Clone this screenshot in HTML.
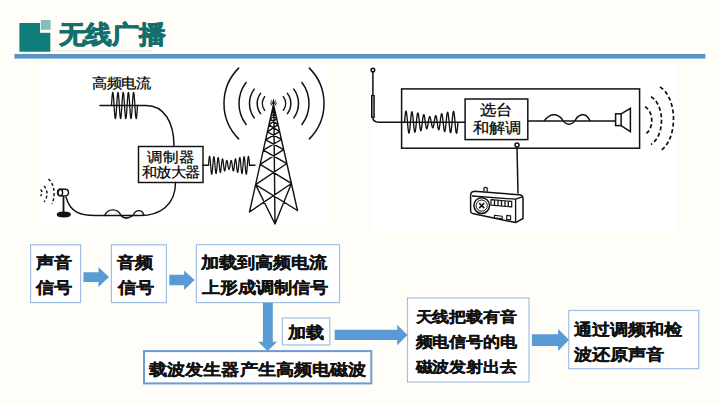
<!DOCTYPE html>
<html><head><meta charset="utf-8"><style>
html,body{margin:0;padding:0;width:720px;height:405px;overflow:hidden;background:#fefdf8;font-family:"Liberation Sans",sans-serif}
</style></head><body>
<svg width="720" height="405" viewBox="0 0 720 405" style="position:absolute;left:0;top:0">
<rect x="0" y="0" width="720" height="405" fill="#fefdf8"/>
<rect x="40" y="64" width="288" height="160" fill="#ffffff"/>
<rect x="371.5" y="64" width="305.5" height="167.5" fill="#ffffff"/>
<!-- header icon -->
<rect x="19.4" y="23" width="30.9" height="28.7" fill="#0f7e7a"/>
<rect x="40" y="20" width="12" height="12.8" fill="#fefdf8"/>
<rect x="40.8" y="20" width="9.8" height="9.8" fill="#83bfba"/>
<rect x="51" y="50.6" width="101" height="0.8" fill="#e4ded6"/>
<rect x="14.4" y="54" width="691" height="4.6" fill="#5b93c9"/>
<text transform="translate(58.50,43.30) scale(1,0.93)" x="0" y="0" font-family="Liberation Sans, sans-serif" font-weight="bold" font-size="27" fill="#136f6b" stroke="#136f6b" stroke-width="1.0" stroke-linejoin="round">无线广播</text>

<g fill="none" stroke="#111" stroke-width="1.45" stroke-linecap="round">
<path d="M111.50,105.50 L111.56,104.48 L111.63,103.47 L111.69,102.47 L111.76,101.48 L111.83,100.53 L111.89,99.60 L111.95,98.71 L112.02,97.86 L112.08,97.06 L112.15,96.31 L112.22,95.61 L112.28,94.98 L112.34,94.42 L112.41,93.92 L112.47,93.49 L112.54,93.14 L112.61,92.86 L112.67,92.66 L112.73,92.54 L112.80,92.50 L112.86,92.54 L112.93,92.66 L113.00,92.86 L113.06,93.14 L113.12,93.49 L113.19,93.92 L113.25,94.42 L113.32,94.98 L113.39,95.61 L113.45,96.31 L113.52,97.06 L113.58,97.86 L113.64,98.71 L113.71,99.60 L113.78,100.53 L113.84,101.48 L113.91,102.47 L113.97,103.47 L114.03,104.48 L114.10,105.50 L114.17,106.52 L114.23,107.53 L114.30,108.53 L114.36,109.52 L114.42,110.47 L114.49,111.40 L114.56,112.29 L114.62,113.14 L114.69,113.94 L114.75,114.69 L114.81,115.39 L114.88,116.02 L114.94,116.58 L115.01,117.08 L115.08,117.51 L115.14,117.86 L115.20,118.14 L115.27,118.34 L115.33,118.46 L115.40,118.50 L115.47,118.46 L115.53,118.34 L115.59,118.14 L115.66,117.86 L115.72,117.51 L115.79,117.08 L115.86,116.58 L115.92,116.02 L115.98,115.39 L116.05,114.69 L116.11,113.94 L116.18,113.14 L116.25,112.29 L116.31,111.40 L116.38,110.47 L116.44,109.52 L116.50,108.53 L116.57,107.53 L116.64,106.52 L116.70,105.50 L116.77,104.48 L116.83,103.47 L116.89,102.47 L116.96,101.48 L117.03,100.53 L117.09,99.60 L117.16,98.71 L117.22,97.86 L117.28,97.06 L117.35,96.31 L117.42,95.61 L117.48,94.98 L117.55,94.42 L117.61,93.92 L117.67,93.49 L117.74,93.14 L117.81,92.86 L117.87,92.66 L117.94,92.54 L118.00,92.50 L118.06,92.54 L118.13,92.66 L118.19,92.86 L118.26,93.14 L118.33,93.49 L118.39,93.92 L118.45,94.42 L118.52,94.98 L118.59,95.61 L118.65,96.31 L118.72,97.06 L118.78,97.86 L118.84,98.71 L118.91,99.60 L118.97,100.53 L119.04,101.48 L119.11,102.47 L119.17,103.47 L119.23,104.48 L119.30,105.50 L119.36,106.52 L119.43,107.53 L119.50,108.53 L119.56,109.52 L119.62,110.47 L119.69,111.40 L119.75,112.29 L119.82,113.14 L119.89,113.94 L119.95,114.69 L120.02,115.39 L120.08,116.02 L120.14,116.58 L120.21,117.08 L120.28,117.51 L120.34,117.86 L120.41,118.14 L120.47,118.34 L120.53,118.46 L120.60,118.50 L120.66,118.46 L120.73,118.34 L120.80,118.14 L120.86,117.86 L120.92,117.51 L120.99,117.08 L121.06,116.58 L121.12,116.02 L121.19,115.39 L121.25,114.69 L121.31,113.94 L121.38,113.14 L121.44,112.29 L121.51,111.40 L121.58,110.47 L121.64,109.52 L121.70,108.53 L121.77,107.53 L121.84,106.52 L121.90,105.50 L121.97,104.48 L122.03,103.47 L122.09,102.47 L122.16,101.48 L122.22,100.53 L122.29,99.60 L122.36,98.71 L122.42,97.86 L122.48,97.06 L122.55,96.31 L122.61,95.61 L122.68,94.98 L122.75,94.42 L122.81,93.92 L122.88,93.49 L122.94,93.14 L123.00,92.86 L123.07,92.66 L123.14,92.54 L123.20,92.50 L123.27,92.54 L123.33,92.66 L123.39,92.86 L123.46,93.14 L123.53,93.49 L123.59,93.92 L123.66,94.42 L123.72,94.98 L123.78,95.61 L123.85,96.31 L123.91,97.06 L123.98,97.86 L124.05,98.71 L124.11,99.60 L124.17,100.53 L124.24,101.48 L124.31,102.47 L124.37,103.47 L124.44,104.48 L124.50,105.50 L124.56,106.52 L124.63,107.53 L124.69,108.53 L124.76,109.52 L124.83,110.47 L124.89,111.40 L124.95,112.29 L125.02,113.14 L125.08,113.94 L125.15,114.69 L125.22,115.39 L125.28,116.02 L125.34,116.58 L125.41,117.08 L125.47,117.51 L125.54,117.86 L125.61,118.14 L125.67,118.34 L125.73,118.46 L125.80,118.50 L125.86,118.46 L125.93,118.34 L126.00,118.14 L126.06,117.86 L126.12,117.51 L126.19,117.08 L126.25,116.58 L126.32,116.02 L126.39,115.39 L126.45,114.69 L126.52,113.94 L126.58,113.14 L126.64,112.29 L126.71,111.40 L126.78,110.47 L126.84,109.52 L126.91,108.53 L126.97,107.53 L127.03,106.52 L127.10,105.50 L127.17,104.48 L127.23,103.47 L127.30,102.47 L127.36,101.48 L127.42,100.53 L127.49,99.60 L127.56,98.71 L127.62,97.86 L127.69,97.06 L127.75,96.31 L127.81,95.61 L127.88,94.98 L127.94,94.42 L128.01,93.92 L128.07,93.49 L128.14,93.14 L128.20,92.86 L128.27,92.66 L128.34,92.54 L128.40,92.50 L128.47,92.54 L128.53,92.66 L128.59,92.86 L128.66,93.14 L128.72,93.49 L128.79,93.92 L128.85,94.42 L128.92,94.98 L128.99,95.61 L129.05,96.31 L129.12,97.06 L129.18,97.86 L129.25,98.71 L129.31,99.60 L129.38,100.53 L129.44,101.48 L129.50,102.47 L129.57,103.47 L129.63,104.48 L129.70,105.50 L129.76,106.52 L129.83,107.53 L129.90,108.53 L129.96,109.52 L130.03,110.47 L130.09,111.40 L130.16,112.29 L130.22,113.14 L130.28,113.94 L130.35,114.69 L130.41,115.39 L130.48,116.02 L130.55,116.58 L130.61,117.08 L130.68,117.51 L130.74,117.86 L130.81,118.14 L130.87,118.34 L130.94,118.46 L131.00,118.50 L131.06,118.46 L131.13,118.34 L131.19,118.14 L131.26,117.86 L131.32,117.51 L131.39,117.08 L131.45,116.58 L131.52,116.02 L131.59,115.39 L131.65,114.69 L131.72,113.94 L131.78,113.14 L131.84,112.29 L131.91,111.40 L131.97,110.47 L132.04,109.52 L132.10,108.53 L132.17,107.53 L132.24,106.52 L132.30,105.50 L132.37,104.48 L132.43,103.47 L132.50,102.47 L132.56,101.48 L132.62,100.53 L132.69,99.60 L132.75,98.71 L132.82,97.86 L132.88,97.06 L132.95,96.31 L133.01,95.61 L133.08,94.98 L133.15,94.42 L133.21,93.92 L133.28,93.49 L133.34,93.14 L133.41,92.86 L133.47,92.66 L133.53,92.54 L133.60,92.50 L133.66,92.54 L133.73,92.66 L133.80,92.86 L133.86,93.14 L133.93,93.49 L133.99,93.92 L134.06,94.42 L134.12,94.98 L134.19,95.61 L134.25,96.31 L134.31,97.06 L134.38,97.86 L134.44,98.71 L134.51,99.60 L134.57,100.53 L134.64,101.48 L134.70,102.47 L134.77,103.47 L134.84,104.48 L134.90,105.50 L134.97,106.52 L135.03,107.53 L135.09,108.53 L135.16,109.52 L135.22,110.47 L135.29,111.40 L135.35,112.29 L135.42,113.14 L135.49,113.94 L135.55,114.69 L135.62,115.39 L135.68,116.02 L135.75,116.58 L135.81,117.08 L135.88,117.51 L135.94,117.86 L136.00,118.14 L136.07,118.34 L136.13,118.46 L136.20,118.50 L136.26,118.46 L136.33,118.34 L136.40,118.14 L136.46,117.86 L136.53,117.51 L136.59,117.08 L136.66,116.58 L136.72,116.02 L136.78,115.39 L136.85,114.69 L136.91,113.94 L136.98,113.14 L137.05,112.29 L137.11,111.40 L137.18,110.47 L137.24,109.52 L137.31,108.53 L137.37,107.53 L137.44,106.52 L137.50,105.50" stroke-width="1.3"/>
<path d="M100,105.5 L146,105.5 C164,105.5 174,122 174,146"/>
<rect x="138.5" y="146.5" width="64.5" height="36" />
<path d="M203,165.3 L208.5,165.3 M249.5,165.3 L255,165.3"/>
<path d="M208.50,165.30 L208.60,163.96 L208.71,162.65 L208.81,161.40 L208.91,160.24 L209.01,159.19 L209.12,158.28 L209.22,157.52 L209.32,156.94 L209.42,156.54 L209.53,156.34 L209.63,156.34 L209.73,156.54 L209.83,156.93 L209.94,157.51 L210.04,158.26 L210.14,159.17 L210.24,160.21 L210.34,161.36 L210.45,162.60 L210.55,163.90 L210.65,165.23 L210.75,166.56 L210.86,167.86 L210.96,169.09 L211.06,170.25 L211.16,171.29 L211.27,172.19 L211.37,172.94 L211.47,173.52 L211.57,173.92 L211.68,174.12 L211.78,174.13 L211.88,173.94 L211.99,173.55 L212.09,172.99 L212.19,172.25 L212.29,171.37 L212.40,170.35 L212.50,169.22 L212.60,168.01 L212.70,166.74 L212.81,165.44 L212.91,164.14 L213.01,162.87 L213.11,161.66 L213.22,160.54 L213.32,159.52 L213.42,158.64 L213.52,157.90 L213.62,157.34 L213.73,156.95 L213.83,156.75 L213.93,156.74 L214.03,156.92 L214.14,157.29 L214.24,157.83 L214.34,158.54 L214.44,159.39 L214.55,160.37 L214.65,161.46 L214.75,162.63 L214.85,163.85 L214.96,165.10 L215.06,166.35 L215.16,167.57 L215.26,168.73 L215.37,169.82 L215.47,170.79 L215.57,171.64 L215.68,172.35 L215.78,172.89 L215.88,173.26 L215.98,173.46 L216.09,173.47 L216.19,173.30 L216.29,172.95 L216.39,172.44 L216.50,171.77 L216.60,170.96 L216.70,170.03 L216.80,169.00 L216.91,167.89 L217.01,166.73 L217.11,165.55 L217.21,164.37 L217.31,163.21 L217.42,162.11 L217.52,161.09 L217.62,160.17 L217.72,159.37 L217.83,158.70 L217.93,158.19 L218.03,157.83 L218.13,157.65 L218.24,157.63 L218.34,157.79 L218.44,158.11 L218.54,158.59 L218.65,159.22 L218.75,159.97 L218.85,160.84 L218.96,161.80 L219.06,162.83 L219.16,163.91 L219.26,165.01 L219.37,166.11 L219.47,167.18 L219.57,168.20 L219.67,169.15 L219.78,170.01 L219.88,170.75 L219.98,171.37 L220.08,171.85 L220.19,172.17 L220.29,172.35 L220.39,172.36 L220.49,172.22 L220.59,171.92 L220.70,171.49 L220.80,170.91 L220.90,170.22 L221.00,169.43 L221.11,168.55 L221.21,167.61 L221.31,166.62 L221.41,165.62 L221.52,164.62 L221.62,163.64 L221.72,162.71 L221.82,161.84 L221.93,161.07 L222.03,160.39 L222.13,159.83 L222.24,159.40 L222.34,159.10 L222.44,158.94 L222.54,158.93 L222.65,159.05 L222.75,159.32 L222.85,159.71 L222.95,160.23 L223.06,160.85 L223.16,161.56 L223.26,162.35 L223.36,163.19 L223.47,164.07 L223.57,164.97 L223.67,165.86 L223.77,166.73 L223.88,167.56 L223.98,168.33 L224.08,169.02 L224.18,169.62 L224.28,170.12 L224.39,170.50 L224.49,170.77 L224.59,170.91 L224.69,170.92 L224.80,170.81 L224.90,170.57 L225.00,170.23 L225.10,169.78 L225.21,169.23 L225.31,168.61 L225.41,167.92 L225.51,167.18 L225.62,166.41 L225.72,165.63 L225.82,164.85 L225.93,164.09 L226.03,163.37 L226.13,162.71 L226.23,162.11 L226.34,161.59 L226.44,161.16 L226.54,160.83 L226.64,160.61 L226.75,160.49 L226.85,160.48 L226.95,160.58 L227.05,160.78 L227.16,161.08 L227.26,161.46 L227.36,161.93 L227.46,162.46 L227.56,163.05 L227.67,163.67 L227.77,164.32 L227.87,164.99 L227.97,165.64 L228.08,166.28 L228.18,166.89 L228.28,167.45 L228.38,167.95 L228.49,168.38 L228.59,168.74 L228.69,169.01 L228.79,169.20 L228.90,169.29 L229.00,169.30 L229.10,169.29 L229.21,169.20 L229.31,169.01 L229.41,168.74 L229.51,168.38 L229.62,167.95 L229.72,167.45 L229.82,166.89 L229.92,166.28 L230.03,165.64 L230.13,164.99 L230.23,164.32 L230.33,163.67 L230.44,163.05 L230.54,162.46 L230.64,161.93 L230.74,161.46 L230.84,161.08 L230.95,160.78 L231.05,160.58 L231.15,160.48 L231.25,160.49 L231.36,160.61 L231.46,160.83 L231.56,161.16 L231.66,161.59 L231.77,162.11 L231.87,162.71 L231.97,163.37 L232.07,164.09 L232.18,164.85 L232.28,165.63 L232.38,166.41 L232.49,167.18 L232.59,167.92 L232.69,168.61 L232.79,169.23 L232.90,169.78 L233.00,170.23 L233.10,170.57 L233.20,170.81 L233.31,170.92 L233.41,170.91 L233.51,170.77 L233.61,170.50 L233.72,170.12 L233.82,169.62 L233.92,169.02 L234.02,168.33 L234.12,167.56 L234.23,166.73 L234.33,165.86 L234.43,164.97 L234.53,164.07 L234.64,163.19 L234.74,162.35 L234.84,161.56 L234.94,160.85 L235.05,160.23 L235.15,159.71 L235.25,159.32 L235.35,159.05 L235.46,158.93 L235.56,158.94 L235.66,159.10 L235.76,159.40 L235.87,159.83 L235.97,160.39 L236.07,161.07 L236.18,161.84 L236.28,162.71 L236.38,163.64 L236.48,164.62 L236.59,165.62 L236.69,166.62 L236.79,167.61 L236.89,168.55 L237.00,169.43 L237.10,170.22 L237.20,170.91 L237.30,171.49 L237.41,171.92 L237.51,172.22 L237.61,172.36 L237.71,172.35 L237.81,172.17 L237.92,171.85 L238.02,171.37 L238.12,170.75 L238.22,170.01 L238.33,169.15 L238.43,168.20 L238.53,167.18 L238.63,166.11 L238.74,165.01 L238.84,163.91 L238.94,162.83 L239.04,161.80 L239.15,160.84 L239.25,159.97 L239.35,159.22 L239.46,158.59 L239.56,158.11 L239.66,157.79 L239.76,157.63 L239.87,157.65 L239.97,157.83 L240.07,158.19 L240.17,158.70 L240.28,159.37 L240.38,160.17 L240.48,161.09 L240.58,162.11 L240.69,163.21 L240.79,164.37 L240.89,165.55 L240.99,166.73 L241.09,167.89 L241.20,169.00 L241.30,170.03 L241.40,170.96 L241.50,171.77 L241.61,172.44 L241.71,172.95 L241.81,173.30 L241.91,173.47 L242.02,173.46 L242.12,173.26 L242.22,172.89 L242.32,172.35 L242.43,171.64 L242.53,170.79 L242.63,169.82 L242.74,168.73 L242.84,167.57 L242.94,166.35 L243.04,165.10 L243.14,163.85 L243.25,162.63 L243.35,161.46 L243.45,160.37 L243.56,159.39 L243.66,158.54 L243.76,157.83 L243.86,157.29 L243.97,156.92 L244.07,156.74 L244.17,156.75 L244.27,156.95 L244.38,157.34 L244.48,157.90 L244.58,158.64 L244.68,159.52 L244.78,160.54 L244.89,161.66 L244.99,162.87 L245.09,164.14 L245.19,165.44 L245.30,166.74 L245.40,168.01 L245.50,169.22 L245.61,170.35 L245.71,171.37 L245.81,172.25 L245.91,172.99 L246.01,173.55 L246.12,173.94 L246.22,174.13 L246.32,174.12 L246.43,173.92 L246.53,173.52 L246.63,172.94 L246.73,172.19 L246.84,171.29 L246.94,170.25 L247.04,169.09 L247.14,167.86 L247.25,166.56 L247.35,165.23 L247.45,163.90 L247.55,162.60 L247.66,161.36 L247.76,160.21 L247.86,159.17 L247.96,158.26 L248.06,157.51 L248.17,156.93 L248.27,156.54 L248.37,156.34 L248.47,156.34 L248.58,156.54 L248.68,156.94 L248.78,157.52 L248.88,158.28 L248.99,159.19 L249.09,160.24 L249.19,161.40 L249.30,162.65 L249.40,163.96 L249.50,165.30" stroke-width="1.25"/>
<path d="M175.5,182.5 C175.5,205 160,215.5 140,215.5 L95,215.5 C80,215.5 70,212 66,197"/>
<path d="M104.5,215.5 C108,208 118,208 121,215.5 C124,219 128,219 133,215.5 C136,209 142,209 144,215.5"/>
<path d="M238.64,138.86 A50,50 0 0 1 238.64,68.14 M309.36,68.14 A50,50 0 0 1 309.36,138.86 M246.05,124.56 A35,35 0 0 1 246.05,82.44 M301.95,82.44 A35,35 0 0 1 301.95,124.56 M254.18,117.90 A24.5,24.5 0 0 1 254.18,89.10 M293.82,89.10 A24.5,24.5 0 0 1 293.82,117.90 M260.58,113.61 A16.8,16.8 0 0 1 260.58,93.39 M287.42,93.39 A16.8,16.8 0 0 1 287.42,113.61 M264.62,110.32 A11.6,11.6 0 0 1 264.62,96.68 M283.38,96.68 A11.6,11.6 0 0 1 283.38,110.32" stroke-width="1.5"/>
<path d="M273.50,104.50 L249.50,212.00 M273.50,104.50 L297.50,210.50 M249.50,212.00 L291.38,183.47 M297.50,210.50 L255.62,184.59 M255.62,184.59 L286.87,163.54 M291.38,183.47 L260.13,164.38 M260.13,164.38 L283.70,149.55 M286.87,163.54 L263.30,150.19 M263.30,150.19 L281.42,139.48 M283.70,149.55 L265.58,139.97 M265.58,139.97 L279.62,131.53 M281.42,139.48 L267.38,131.91 M267.38,131.91 L278.06,124.64 M279.62,131.53 L268.94,124.92 M268.94,124.92 L276.74,118.81 M278.06,124.64 L270.26,119.01 M270.26,119.01 L275.66,114.04 M276.74,118.81 L271.34,114.17 M271.34,114.17 L274.70,109.80 M275.66,114.04 L272.30,109.88 M255.62,184.59 L275.00,224.00 M291.38,183.47 L275.00,224.00 M273.80,106.00 L275.00,224.00" stroke-width="1.4"/>
<path d="M271,100.5 L276,105 M276,100.5 L271,105 M273.5,99.5 L273.5,106 M270.5,103 L276.5,103" stroke-width="1"/>
</g>
<!-- mic -->
<g stroke="#111" fill="none" stroke-width="1.4">
<rect x="57.5" y="189.3" width="11" height="6.6" rx="3.3" fill="#fff"/>
<ellipse cx="60.3" cy="192.6" rx="2.3" ry="3.3"/>
<path d="M63.5,196 L63.5,212.5" stroke-width="1.8"/>
<ellipse cx="63.8" cy="214.4" rx="6.4" ry="2.3" fill="#111"/>
<path d="M48.5,179 C54,184 56,194 52,204 M44,186 C48,190 48,197 44,202 M40.5,189.5 C42.5,191 42.5,194 40.5,196" stroke-dasharray="3,2.2"/>
</g>


<!-- right diagram -->
<g fill="none" stroke="#111" stroke-width="1.5">
<rect x="401.6" y="88.9" width="238" height="59.3"/>
<rect x="465.1" y="99" width="62.7" height="40.6"/>
<circle cx="372.9" cy="70" r="1.8"/>
<path d="M372.9,71.8 L372.9,95.6"/>
<rect x="371.6" y="95.6" width="2.6" height="21.7" stroke-width="1.2" fill="#888"/>
<path d="M372.8,117.3 C372.8,121 375,122.2 379,122.2 L465.1,122.2"/>
<path d="M404.50,122.20 L404.63,120.65 L404.77,119.13 L404.90,117.67 L405.04,116.31 L405.17,115.06 L405.30,113.95 L405.44,113.01 L405.57,112.26 L405.70,111.70 L405.84,111.35 L405.97,111.22 L406.11,111.31 L406.24,111.62 L406.37,112.14 L406.51,112.86 L406.64,113.76 L406.77,114.83 L406.91,116.05 L407.04,117.39 L407.18,118.82 L407.31,120.32 L407.44,121.86 L407.58,123.40 L407.71,124.91 L407.84,126.37 L407.98,127.74 L408.11,128.99 L408.25,130.11 L408.38,131.07 L408.51,131.85 L408.65,132.44 L408.78,132.82 L408.91,132.99 L409.05,132.94 L409.18,132.68 L409.31,132.21 L409.45,131.54 L409.58,130.68 L409.72,129.66 L409.85,128.49 L409.98,127.20 L410.12,125.82 L410.25,124.36 L410.38,122.87 L410.52,121.37 L410.65,119.88 L410.79,118.45 L410.92,117.10 L411.05,115.86 L411.19,114.74 L411.32,113.78 L411.45,112.99 L411.59,112.39 L411.72,111.98 L411.86,111.78 L411.99,111.79 L412.12,112.01 L412.26,112.43 L412.39,113.04 L412.52,113.83 L412.66,114.79 L412.79,115.89 L412.93,117.11 L413.06,118.42 L413.19,119.81 L413.33,121.24 L413.46,122.68 L413.60,124.10 L413.73,125.48 L413.86,126.79 L414.00,128.00 L414.13,129.09 L414.26,130.04 L414.40,130.82 L414.53,131.43 L414.67,131.85 L414.80,132.08 L414.93,132.10 L415.07,131.93 L415.20,131.57 L415.33,131.02 L415.47,130.30 L415.60,129.43 L415.74,128.41 L415.87,127.27 L416.00,126.05 L416.14,124.75 L416.27,123.41 L416.40,122.05 L416.54,120.70 L416.67,119.40 L416.81,118.15 L416.94,117.00 L417.07,115.96 L417.21,115.05 L417.34,114.29 L417.47,113.69 L417.61,113.26 L417.74,113.02 L417.88,112.96 L418.01,113.08 L418.14,113.39 L418.28,113.87 L418.41,114.51 L418.54,115.30 L418.68,116.22 L418.81,117.26 L418.94,118.38 L419.08,119.57 L419.21,120.81 L419.35,122.06 L419.48,123.31 L419.61,124.52 L419.75,125.68 L419.88,126.75 L420.01,127.73 L420.15,128.59 L420.28,129.31 L420.42,129.89 L420.55,130.31 L420.68,130.56 L420.82,130.65 L420.95,130.56 L421.08,130.31 L421.22,129.90 L421.35,129.34 L421.49,128.64 L421.62,127.82 L421.75,126.90 L421.89,125.89 L422.02,124.82 L422.15,123.71 L422.29,122.58 L422.42,121.45 L422.56,120.35 L422.69,119.30 L422.82,118.31 L422.96,117.41 L423.09,116.62 L423.23,115.95 L423.36,115.41 L423.49,115.01 L423.63,114.76 L423.76,114.66 L423.89,114.71 L424.03,114.91 L424.16,115.25 L424.30,115.73 L424.43,116.33 L424.56,117.04 L424.70,117.85 L424.83,118.73 L424.96,119.67 L425.10,120.65 L425.23,121.64 L425.37,122.64 L425.50,123.62 L425.63,124.55 L425.77,125.43 L425.90,126.23 L426.03,126.94 L426.17,127.54 L426.30,128.04 L426.44,128.41 L426.57,128.65 L426.70,128.75 L426.84,128.73 L426.97,128.58 L427.10,128.30 L427.24,127.90 L427.37,127.40 L427.50,126.80 L427.64,126.12 L427.77,125.36 L427.91,124.56 L428.04,123.72 L428.17,122.87 L428.31,122.01 L428.44,121.17 L428.57,120.36 L428.71,119.61 L428.84,118.91 L428.98,118.30 L429.11,117.77 L429.24,117.34 L429.38,117.01 L429.51,116.79 L429.64,116.68 L429.78,116.68 L429.91,116.80 L430.05,117.02 L430.18,117.33 L430.31,117.75 L430.45,118.24 L430.58,118.80 L430.71,119.42 L430.85,120.08 L430.98,120.78 L431.12,121.49 L431.25,122.20 L431.38,122.91 L431.52,123.62 L431.65,124.32 L431.79,124.98 L431.92,125.60 L432.05,126.16 L432.19,126.65 L432.32,127.07 L432.45,127.38 L432.59,127.60 L432.72,127.72 L432.86,127.72 L432.99,127.61 L433.12,127.39 L433.26,127.06 L433.39,126.63 L433.52,126.10 L433.66,125.49 L433.79,124.79 L433.93,124.04 L434.06,123.23 L434.19,122.39 L434.33,121.53 L434.46,120.68 L434.59,119.84 L434.73,119.04 L434.86,118.28 L435.00,117.60 L435.13,117.00 L435.26,116.50 L435.40,116.10 L435.53,115.82 L435.66,115.67 L435.80,115.65 L435.93,115.75 L436.06,115.99 L436.20,116.36 L436.33,116.86 L436.47,117.46 L436.60,118.17 L436.73,118.97 L436.87,119.85 L437.00,120.78 L437.13,121.76 L437.27,122.76 L437.40,123.75 L437.54,124.73 L437.67,125.67 L437.80,126.55 L437.94,127.36 L438.07,128.07 L438.20,128.67 L438.34,129.15 L438.47,129.49 L438.61,129.69 L438.74,129.74 L438.87,129.64 L439.01,129.39 L439.14,128.99 L439.27,128.45 L439.41,127.78 L439.54,126.99 L439.68,126.09 L439.81,125.10 L439.94,124.05 L440.08,122.95 L440.21,121.82 L440.35,120.69 L440.48,119.58 L440.61,118.51 L440.75,117.50 L440.88,116.58 L441.01,115.76 L441.15,115.06 L441.28,114.50 L441.42,114.09 L441.55,113.84 L441.68,113.75 L441.82,113.84 L441.95,114.09 L442.08,114.51 L442.22,115.09 L442.35,115.81 L442.49,116.67 L442.62,117.65 L442.75,118.72 L442.89,119.88 L443.02,121.09 L443.15,122.34 L443.29,123.59 L443.42,124.83 L443.56,126.02 L443.69,127.14 L443.82,128.18 L443.96,129.10 L444.09,129.89 L444.22,130.53 L444.36,131.01 L444.49,131.32 L444.62,131.44 L444.76,131.38 L444.89,131.14 L445.03,130.71 L445.16,130.11 L445.29,129.35 L445.43,128.44 L445.56,127.40 L445.69,126.25 L445.83,125.00 L445.96,123.70 L446.10,122.35 L446.23,120.99 L446.36,119.65 L446.50,118.35 L446.63,117.13 L446.76,115.99 L446.90,114.97 L447.03,114.10 L447.17,113.38 L447.30,112.83 L447.43,112.47 L447.57,112.30 L447.70,112.32 L447.83,112.55 L447.97,112.97 L448.10,113.58 L448.24,114.36 L448.37,115.31 L448.50,116.40 L448.64,117.61 L448.77,118.92 L448.90,120.30 L449.04,121.72 L449.17,123.16 L449.31,124.59 L449.44,125.98 L449.57,127.29 L449.71,128.51 L449.84,129.61 L449.98,130.57 L450.11,131.36 L450.24,131.97 L450.38,132.39 L450.51,132.61 L450.64,132.62 L450.78,132.42 L450.91,132.01 L451.05,131.41 L451.18,130.62 L451.31,129.66 L451.45,128.54 L451.58,127.30 L451.71,125.95 L451.85,124.52 L451.98,123.03 L452.12,121.53 L452.25,120.04 L452.38,118.58 L452.52,117.20 L452.65,115.91 L452.78,114.74 L452.92,113.72 L453.05,112.86 L453.19,112.19 L453.32,111.72 L453.45,111.46 L453.59,111.41 L453.72,111.58 L453.85,111.96 L453.99,112.55 L454.12,113.33 L454.25,114.29 L454.39,115.41 L454.52,116.66 L454.66,118.03 L454.79,119.49 L454.92,121.00 L455.06,122.54 L455.19,124.08 L455.32,125.58 L455.46,127.01 L455.59,128.35 L455.73,129.57 L455.86,130.64 L455.99,131.54 L456.13,132.26 L456.26,132.78 L456.39,133.09 L456.53,133.18 L456.66,133.05 L456.80,132.70 L456.93,132.14 L457.06,131.39 L457.20,130.45 L457.33,129.34 L457.46,128.09 L457.60,126.73 L457.73,125.27 L457.87,123.75 L458.00,122.20" stroke-width="1.35"/>
<path d="M527.8,121.1 L615.6,121.1"/>
<path d="M544,121.1 C550,113 557,113 562,119 C566,126 572,126 576,119 C580,113 587,113 590,121.1"/>
<rect x="615.6" y="113.8" width="5.5" height="11.8"/>
<path d="M621.1,113.8 L630.4,108.4 L630.4,131.6 L621.1,125.6"/>
<path d="M645,106.7 C654,112 654,129 645,134.4 M651,96.7 C665,105 665,136 651,144.4 M660,87.1 C678,98 678,140 660,151.1" stroke-dasharray="4,2.6" stroke-width="1.7"/>
<circle cx="517" cy="145" r="2"/>
<path d="M517,147 L518,193.5"/>
</g>
<!-- radio -->
<g stroke="#111" stroke-width="1.3" fill="#fff" stroke-linejoin="round">
<path d="M484,191.5 L484,188 Q485.5,186.8 487.2,188 L487.2,191.8" stroke-width="1.2"/>
<path d="M470.6,195.5 Q470.8,191.5 474.5,191.3 L519.5,194.8 Q523,195.3 523,198.5 L523,218.5 L515.6,222.6 L472.6,213.6 Q470.6,213.1 470.6,211 Z" stroke-width="1.5"/>
<path d="M472,196 L515.6,199.2 L523,196.6 M515.6,199.2 L515.6,222.6" fill="none"/>
<circle cx="481.7" cy="205.6" r="7.8" stroke-width="1.5"/>
<circle cx="481.7" cy="205.6" r="5.6" stroke-width="1"/>
<path d="M479.2,203.1 L484.2,208.1 M484.2,203.1 L479.2,208.1" fill="none" stroke-width="1.5"/>
<path d="M491,199.7 L511.7,201.4 L511.7,206.9 L491,205.2 Z" stroke-width="1.2"/>
<path d="M494.5,200 L494.5,205.5 M498,200.3 L498,205.8 M501.5,200.6 L501.5,206.1 M505,200.9 L505,206.4 M508.3,201.1 L508.3,206.6" fill="none" stroke-width="1.3"/>
<path d="M494.4,215.2 L502.2,216.2 L502.2,218.8 L494.4,217.8 Z M506.7,215.4 L510.6,215.9 L510.6,219.9 L506.7,219.4 Z" stroke-width="1.1"/>
</g>


<!-- flow boxes -->
<g fill="#fff" stroke="#9fc0e4" stroke-width="1.2">
<rect x="30.6" y="244.8" width="50" height="57.8"/>
<rect x="111.4" y="244.8" width="55" height="57.8"/>
<rect x="196.4" y="244.6" width="143.1" height="58"/>
<rect x="282.4" y="318" width="47.4" height="26.9"/>
<rect x="407.5" y="298" width="121.5" height="84"/>
<rect x="568.7" y="310.5" width="130" height="58.2"/>
</g>
<rect x="144" y="351.1" width="227.3" height="32.3" fill="#fff" stroke="#6b9bd3" stroke-width="2"/>
<g fill="#5b9bd5">
<path d="M83.4,272.2 L98.5,272.2 L98.5,267.3 L109,277.1 L98.5,287 L98.5,282.1 L83.4,282.1 Z"/>
<path d="M169.3,274.7 L184.1,274.7 L184.1,270.4 L194.6,280.1 L184.1,290.1 L184.1,285.2 L169.3,285.2 Z"/>
<path d="M262.9,302.7 L272.8,302.7 L272.8,341.8 L277.1,341.8 L267.6,350.9 L258.1,341.8 L262.9,341.8 Z"/>
<path d="M334.7,329.7 L397.2,329.7 L397.2,324.7 L407.5,335 L397.2,345.2 L397.2,340 L334.7,340 Z"/>
<path d="M531.9,334.3 L558.1,334.3 L558.1,329.1 L569,339.8 L558.1,351.1 L558.1,345.9 L531.9,345.9 Z"/>
</g>

<text transform="translate(92.00,88.40) scale(1,0.92)" x="0" y="0" font-family="Liberation Sans, sans-serif" font-weight="normal" font-size="15" fill="#000" stroke="#000" stroke-width="0.25" stroke-linejoin="round">高频电流</text>
<text transform="translate(147.10,162.10) scale(1,0.9)" x="0" y="0" font-family="Liberation Sans, sans-serif" font-weight="normal" font-size="15.5" fill="#000" stroke="#000" stroke-width="0.25" stroke-linejoin="round">调制器</text>
<text transform="translate(141.70,177.40) scale(1,0.92)" x="0" y="0" font-family="Liberation Sans, sans-serif" font-weight="normal" font-size="15" fill="#000" stroke="#000" stroke-width="0.25" stroke-linejoin="round">和放大器</text>
<text transform="translate(479.90,115.10) scale(1,0.92)" x="0" y="0" font-family="Liberation Sans, sans-serif" font-weight="normal" font-size="16" fill="#000" stroke="#000" stroke-width="0.25" stroke-linejoin="round">选台</text>
<text transform="translate(473.40,133.10) scale(1,0.92)" x="0" y="0" font-family="Liberation Sans, sans-serif" font-weight="normal" font-size="16" fill="#000" stroke="#000" stroke-width="0.25" stroke-linejoin="round">和解调</text>
<text transform="translate(36.10,267.60) scale(1,0.88)" x="0" y="0" font-family="Liberation Sans, sans-serif" font-weight="bold" font-size="18" fill="#111" stroke="#111" stroke-width="0.3" stroke-linejoin="round">声音</text>
<text transform="translate(36.10,293.30) scale(1,0.88)" x="0" y="0" font-family="Liberation Sans, sans-serif" font-weight="bold" font-size="18" fill="#111" stroke="#111" stroke-width="0.3" stroke-linejoin="round">信号</text>
<text transform="translate(117.00,267.60) scale(1,0.88)" x="0" y="0" font-family="Liberation Sans, sans-serif" font-weight="bold" font-size="18" fill="#111" stroke="#111" stroke-width="0.3" stroke-linejoin="round">音频</text>
<text transform="translate(117.50,293.30) scale(1,0.88)" x="0" y="0" font-family="Liberation Sans, sans-serif" font-weight="bold" font-size="18" fill="#111" stroke="#111" stroke-width="0.3" stroke-linejoin="round">信号</text>
<text transform="translate(201.00,267.50) scale(1,0.88)" x="0" y="0" font-family="Liberation Sans, sans-serif" font-weight="bold" font-size="18" fill="#111" stroke="#111" stroke-width="0.3" stroke-linejoin="round">加载到高频电流</text>
<text transform="translate(202.00,293.24) scale(1,0.88)" x="0" y="0" font-family="Liberation Sans, sans-serif" font-weight="bold" font-size="18" fill="#111" stroke="#111" stroke-width="0.3" stroke-linejoin="round">上形成调制信号</text>
<text transform="translate(288.10,337.50) scale(1,0.88)" x="0" y="0" font-family="Liberation Sans, sans-serif" font-weight="bold" font-size="18" fill="#111" stroke="#111" stroke-width="0.3" stroke-linejoin="round">加载</text>
<text transform="translate(149.30,374.60) scale(1,0.88)" x="0" y="0" font-family="Liberation Sans, sans-serif" font-weight="bold" font-size="18" fill="#111" stroke="#111" stroke-width="0.3" stroke-linejoin="round">载波发生器产生高频电磁波</text>
<text transform="translate(415.50,321.76) scale(1,0.88)" x="0" y="0" font-family="Liberation Sans, sans-serif" font-weight="bold" font-size="17.5" fill="#111" stroke="#111" stroke-width="0.3" stroke-linejoin="round">天线把载有音</text>
<text transform="translate(415.50,347.00) scale(1,0.88)" x="0" y="0" font-family="Liberation Sans, sans-serif" font-weight="bold" font-size="17.5" fill="#111" stroke="#111" stroke-width="0.3" stroke-linejoin="round">频电信号的电</text>
<text transform="translate(415.50,372.00) scale(1,0.88)" x="0" y="0" font-family="Liberation Sans, sans-serif" font-weight="bold" font-size="17.5" fill="#111" stroke="#111" stroke-width="0.3" stroke-linejoin="round">磁波发射出去</text>
<text transform="translate(574.24,334.76) scale(1,0.88)" x="0" y="0" font-family="Liberation Sans, sans-serif" font-weight="bold" font-size="18" fill="#111" stroke="#111" stroke-width="0.3" stroke-linejoin="round">通过调频和检</text>
<text transform="translate(574.00,359.76) scale(1,0.88)" x="0" y="0" font-family="Liberation Sans, sans-serif" font-weight="bold" font-size="18" fill="#111" stroke="#111" stroke-width="0.3" stroke-linejoin="round">波还原声音</text>
</svg>
</body></html>
